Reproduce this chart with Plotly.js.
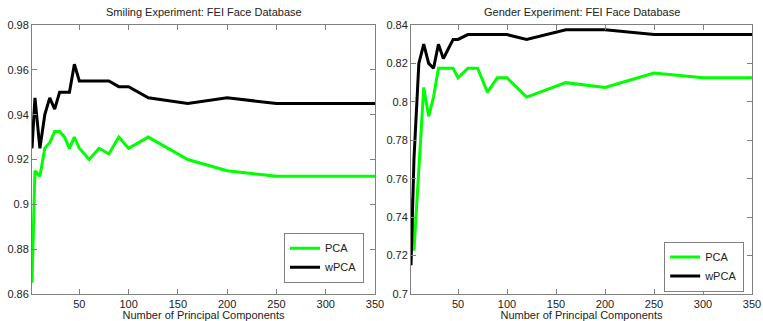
<!DOCTYPE html>
<html>
<head>
<meta charset="utf-8">
<script src="https://cdn.plot.ly/plotly-3.0.1.min.js"></script>
<style>html,body{margin:0;padding:0;background:#fff;}#chart{width:763px;height:321px;}</style>
</head>
<body>
<div id="chart"></div>
<script>
// Number of principal components (shared x values)
const components = [2, 5, 10, 15, 20, 25, 30, 35, 40, 45, 50, 60, 70, 80, 90, 100, 120, 160, 200, 250, 300, 350];

// Smiling experiment
const smilingPCA  = [0.865, 0.915, 0.9125, 0.925, 0.9275, 0.9325, 0.9325, 0.930, 0.925, 0.930, 0.925, 0.920, 0.925, 0.9225, 0.930, 0.925, 0.930, 0.920, 0.915, 0.9125, 0.9125, 0.9125];
const smilingWPCA = [0.925, 0.9475, 0.925, 0.940, 0.9475, 0.9425, 0.950, 0.950, 0.950, 0.9625, 0.955, 0.955, 0.955, 0.955, 0.9525, 0.9525, 0.9475, 0.945, 0.9475, 0.945, 0.945, 0.945];

// Gender experiment
const genderPCA  = [0.75, 0.7225, 0.765, 0.8075, 0.7925, 0.8025, 0.8175, 0.8175, 0.8175, 0.8175, 0.8125, 0.8175, 0.8175, 0.805, 0.8125, 0.8125, 0.8025, 0.810, 0.8075, 0.815, 0.8125, 0.8125];
const genderWPCA = [0.715, 0.77, 0.82, 0.830, 0.820, 0.8175, 0.830, 0.8225, 0.8275, 0.8325, 0.8325, 0.835, 0.835, 0.835, 0.835, 0.835, 0.8325, 0.8375, 0.8375, 0.835, 0.835, 0.835];

const seriesNames = ['PCA', 'wPCA'];
const titles = ['Smiling Experiment: FEI Face Database', 'Gender Experiment: FEI Face Database'];
const xTitle = 'Number of Principal Components';

const FONT = 'Liberation Sans, Arial, Helvetica, sans-serif';
const GREEN = '#00ff00';
const BLACK = '#000000';
const AXC = '#808080';

const traces = [
  {x: components, y: smilingPCA, name: seriesNames[0], mode: 'lines', line: {color: GREEN, width: 3}, xaxis: 'x', yaxis: 'y', legend: 'legend'},
  {x: components, y: smilingWPCA, name: seriesNames[1], mode: 'lines', line: {color: BLACK, width: 3}, xaxis: 'x', yaxis: 'y', legend: 'legend'},
  {x: components, y: genderPCA, name: seriesNames[0], mode: 'lines', line: {color: GREEN, width: 3}, xaxis: 'x2', yaxis: 'y2', legend: 'legend2'},
  {x: components, y: genderWPCA, name: seriesNames[1], mode: 'lines', line: {color: BLACK, width: 3}, xaxis: 'x2', yaxis: 'y2', legend: 'legend2'}
];

function xax(domain, anchor) {
  return {
    domain: domain, anchor: anchor, range: [2, 350],
    tickmode: 'array', tickvals: [50, 100, 150, 200, 250, 300, 350],
    ticks: 'inside', ticklen: 5, tickcolor: AXC, tickwidth: 1,
    showline: true, linecolor: AXC, linewidth: 1, mirror: 'ticks',
    showgrid: false, zeroline: false,
    tickfont: {family: FONT, size: 11, color: '#222'},
    title: {text: xTitle, font: {family: FONT, size: 11, color: '#222'}, standoff: 2}
  };
}
function yax(range, anchor) {
  return {
    domain: [0, 1], anchor: anchor, range: range, dtick: 0.02, tick0: 0,
    ticks: 'inside', ticklen: 5, tickcolor: AXC, tickwidth: 1,
    showline: true, linecolor: AXC, linewidth: 1, mirror: 'ticks',
    showgrid: false, zeroline: false,
    tickfont: {family: FONT, size: 11, color: '#222'}
  };
}

const legendBase = {
  bgcolor: '#ffffff', bordercolor: AXC, borderwidth: 1,
  font: {family: FONT, size: 11, color: '#222'},
  itemwidth: 30, xanchor: 'left', yanchor: 'top', tracegroupgap: 0
};

const layout = {
  width: 763, height: 321,
  margin: {l: 32, r: 11, t: 25, b: 27},
  paper_bgcolor: '#fff', plot_bgcolor: '#fff',
  showlegend: true,
  xaxis: xax([0, 0.4764], 'y'),
  yaxis: yax([0.86, 0.98], 'x'),
  xaxis2: xax([0.5264, 1], 'y2'),
  yaxis2: yax([0.70, 0.84], 'x2'),
  legend: Object.assign({}, legendBase, {x: 0.35, y: 0.228}),
  legend2: Object.assign({}, legendBase, {x: 0.878, y: 0.195}),
  annotations: [
    {text: titles[0], xref: 'paper', yref: 'paper', x: 0.2382, y: 1, xanchor: 'center', yanchor: 'bottom', yshift: 5, showarrow: false, font: {family: FONT, size: 11, color: '#222'}},
    {text: titles[1], xref: 'paper', yref: 'paper', x: 0.7632, y: 1, xanchor: 'center', yanchor: 'bottom', yshift: 5, showarrow: false, font: {family: FONT, size: 11, color: '#222'}}
  ]
};

Plotly.newPlot('chart', traces, layout, {displayModeBar: false, staticPlot: true});
</script>
</body>
</html>
